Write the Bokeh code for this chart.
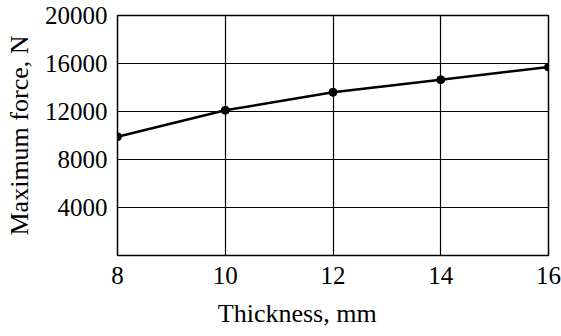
from bokeh.plotting import figure
from bokeh.models import FixedTicker, Range1d
from bokeh.embed import file_html
from bokeh.resources import INLINE

thickness = [8, 10, 12, 14, 16]
force = [9900, 12100, 13600, 14650, 15700]
x_ticks = [8, 10, 12, 14, 16]
y_ticks = [4000, 8000, 12000, 16000, 20000]
x_label = "Thickness, mm"
y_label = "Maximum force, N"

FONT = "Liberation Serif"

p = figure(width=561, height=336, output_backend="svg", toolbar_location=None,
           x_range=Range1d(8, 16), y_range=Range1d(0, 20000),
           min_border_left=117, min_border_top=15, min_border_right=13, min_border_bottom=81)

p.outline_line_color = "black"
p.outline_line_width = 1.5
p.background_fill_color = "white"
p.border_fill_color = "white"

for ax in (p.xaxis[0], p.yaxis[0]):
    ax.axis_line_color = None
    ax.major_tick_line_color = None
    ax.minor_tick_line_color = None
    ax.major_tick_in = 0
    ax.major_tick_out = 0
    ax.minor_tick_in = 0
    ax.minor_tick_out = 0
    ax.major_label_text_font = FONT
    ax.major_label_text_font_size = "25px"
    ax.major_label_text_color = "black"
    ax.axis_label_text_font = FONT
    ax.axis_label_text_font_size = "26px"
    ax.axis_label_text_font_style = "normal"
    ax.axis_label_text_color = "black"

p.xaxis.ticker = FixedTicker(ticks=x_ticks)
p.yaxis.ticker = FixedTicker(ticks=y_ticks)
p.xaxis.major_label_standoff = 11
p.yaxis.major_label_standoff = 10
p.yaxis.axis_label = y_label
p.yaxis.axis_label_standoff = 8
# trailing no-break spaces shift the centred label left, as in the reference
p.xaxis.axis_label = x_label + "\u00a0" * 11
p.xaxis.axis_label_standoff = 12

p.xgrid.ticker = FixedTicker(ticks=x_ticks)
p.ygrid.ticker = FixedTicker(ticks=y_ticks)
p.xgrid.grid_line_color = "black"
p.ygrid.grid_line_color = "black"
p.xgrid.grid_line_width = 1.2
p.ygrid.grid_line_width = 1.2

p.line(thickness, force, line_color="black", line_width=2.5)
p.scatter(thickness, force, size=8, fill_color="black", line_color="black")

open("out.html", "w").write(file_html(p, INLINE))
